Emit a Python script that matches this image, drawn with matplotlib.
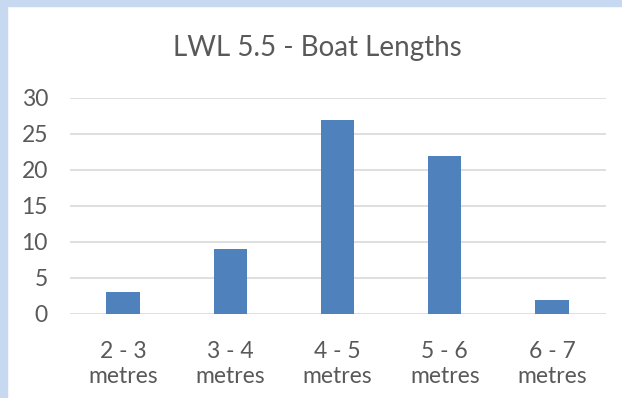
import matplotlib.pyplot as plt
from matplotlib.patches import Rectangle

# boat length classes and counts
categories = ['2 - 3\nmetres', '3 - 4\nmetres', '4 - 5\nmetres', '5 - 6\nmetres', '6 - 7\nmetres']
counts = [3, 9, 27, 22, 2]
yticks = [0, 5, 10, 15, 20, 25, 30]

plt.rcParams['font.family'] = ['Lato', 'DejaVu Sans']
txt = '#595959'

fig = plt.figure(figsize=(6.22, 3.98), dpi=100)
W, H = 622, 398
# light blue frame on top and left
fig.patches.append(Rectangle((0, 0), 7 / W, 1, transform=fig.transFigure,
                             color='#c6d9f1', zorder=0))
fig.patches.append(Rectangle((0, 1 - 6 / H), 1, 6 / H, transform=fig.transFigure,
                             color='#c6d9f1', zorder=0))

ax = fig.add_axes([69.5 / W, 1 - 314 / H, 536 / W, 216 / H])
x = range(len(categories))
ax.bar(x, counts, width=0.31, color='#4f81bd', zorder=3)
ax.set_xlim(-0.5, len(categories) - 0.5)
ax.set_ylim(0, 30)
ax.set_yticks(yticks)
ax.set_xticks(list(x))
ax.set_xticklabels(categories, fontsize=16.5, color=txt, linespacing=1.25)
ax.tick_params(axis='y', labelsize=16.5, labelcolor=txt, length=0, pad=15.5)
ax.tick_params(axis='x', length=0, pad=19.5)
ax.grid(axis='y', color='#d9d9d9', linewidth=1.2, zorder=0)
for s in ax.spines.values():
    s.set_visible(False)

fig.text(0.510, 1 - 48 / H, 'LWL 5.5 - Boat Lengths', ha='center', va='center',
         fontsize=20, color=txt)

fig.savefig('out.png', dpi=100)
